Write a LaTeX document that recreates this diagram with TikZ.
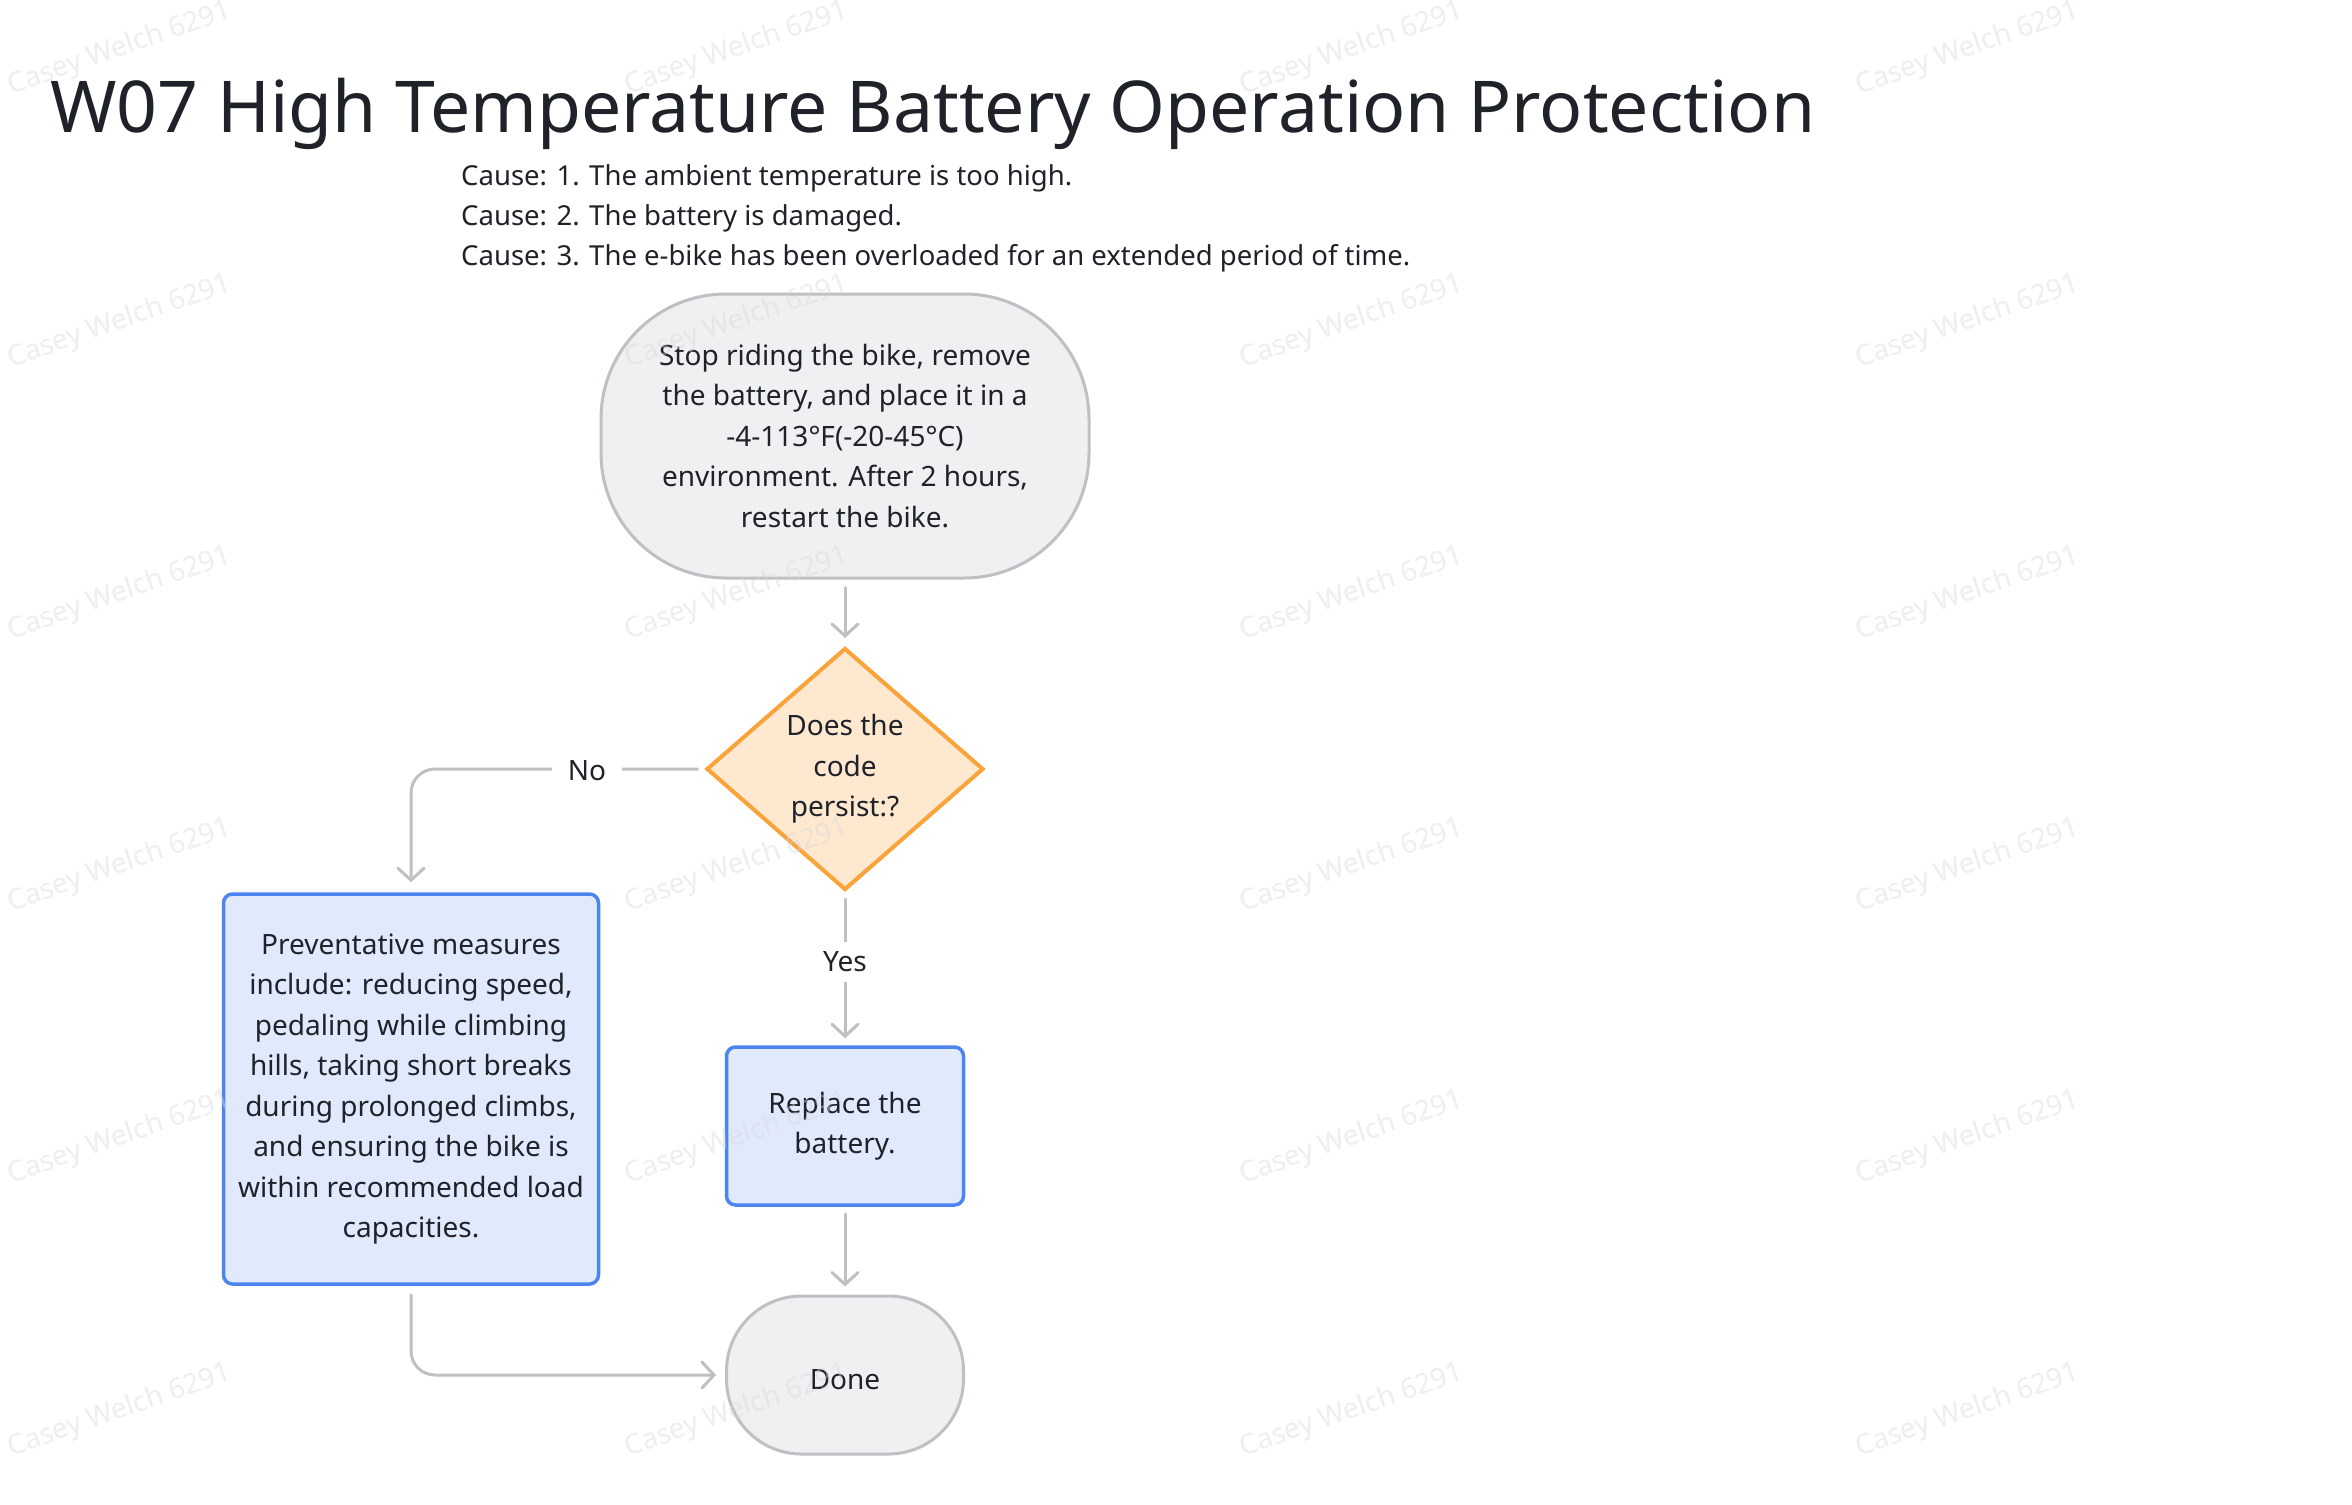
\documentclass[tikz,border=0pt]{standalone}
\usepackage{fontspec}
\setmainfont{Noto Sans}
\usetikzlibrary{arrows.meta,shapes.geometric}
\definecolor{lgray}{HTML}{BEC0C4}
\definecolor{sfill}{HTML}{EFF0F2}
\definecolor{dfill}{HTML}{FEE8D0}
\definecolor{dline}{HTML}{F9A33A}
\definecolor{bfill}{HTML}{E1E9FD}
\definecolor{bline}{HTML}{4D85F0}
\definecolor{ink}{HTML}{1F2329}
\definecolor{wmc}{HTML}{D8DADD}
\tikzset{
  body/.style={text=ink, font=\fontsize{28}{40.5}\selectfont, align=center},
  lowered/.style={execute at begin node={\rule{0pt}{30pt}}},
  term/.style={body, lowered, draw=lgray, fill=sfill, line width=3pt},
  dia/.style={body, diamond, draw=dline, fill=dfill, line width=4pt, inner sep=0pt,
    execute at begin node={\rule{0pt}{36pt}}},
  box/.style={body, lowered, draw=bline, fill=bfill, line width=3.5pt, rounded corners=9pt},
  arr/.style={draw=lgray, line width=3pt, line cap=round, -{Straight Barb[length=12pt,width=26pt,line cap=round]}},
  lbl/.style={body, fill=white, inner xsep=16pt, inner ysep=10pt},
  wm/.style={text=wmc, opacity=0.45, font=\fontsize{28}{32}\selectfont, rotate=19},
  cause/.style={anchor=base west, inner sep=0pt, text=ink, font=\fontsize{27.5}{40}\selectfont}
}
\begin{document}
\begin{tikzpicture}[x=1pt,y=-1pt]
\useasboundingbox[fill=white] (0,0) rectangle (2352,1504);
% title and causes
\node[anchor=base west, inner sep=0pt, text=ink, font=\fontsize{71.5}{86}\selectfont] (title) at (50,132) {W07 High Temperature Battery Operation Protection};
\node[cause] (c1) at (461,185) {Cause: 1. The ambient temperature is too high.};
\node[cause] (c2) at (461,225) {Cause: 2. The battery is damaged.};
\node[cause] (c3) at (461,265) {Cause: 3. The e-bike has been overloaded for an extended period of time.};
% nodes
\node[term, rounded corners=125pt, minimum width=488pt, minimum height=284pt] (start) at (845,436)
  {Stop riding the bike, remove\\the battery, and place it in a\\-4-113°F(-20-45°C)\\environment. After 2 hours,\\restart the bike.};
\node[dia, minimum width=277pt, minimum height=242pt] (q) at (845,769) {Does the\\code\\persist:?};
\node[box, minimum width=375pt, minimum height=390pt] (prev) at (411,1089)
  {Preventative measures\\include: reducing speed,\\pedaling while climbing\\hills, taking short breaks\\during prolonged climbs,\\and ensuring the bike is\\within recommended load\\capacities.};
\node[box, minimum width=237pt, minimum height=158pt] (rep) at (845,1126) {Replace the\\battery.};
\node[term, rounded corners=75pt, minimum width=237pt, minimum height=158pt] (done) at (845,1375) {Done};
\coordinate (nocorner) at (411,769);
\coordinate (endcorner) at (411,1375);
% connectors
\draw[arr, shorten <=8pt, shorten >=8pt] (start) -- (q);
\draw[arr, rounded corners=24pt, shorten <=7pt, shorten >=10pt] (q.west) -- (nocorner) -- (prev.north);
\node[lbl] (nolbl) at (587,771) {No};
\draw[arr, shorten <=7pt, shorten >=7pt] (q.south) -- (rep.north);
\node[lbl] (yeslbl) at (845,962) {Yes};
\draw[arr, shorten <=7pt, shorten >=8pt] (rep) -- (done);
\draw[arr, rounded corners=24pt, shorten <=9pt, shorten >=9pt] (prev.south) -- (endcorner) -- (done.west);
% watermark
\foreach \cx in {120,737,1352,1968}{
  \foreach \cy in {49,322,594,866,1138,1411}{
    \node[wm] (wm-\cx-\cy) at (\cx,\cy) {Casey Welch 6291};
  }
}
\end{tikzpicture}
\end{document}
